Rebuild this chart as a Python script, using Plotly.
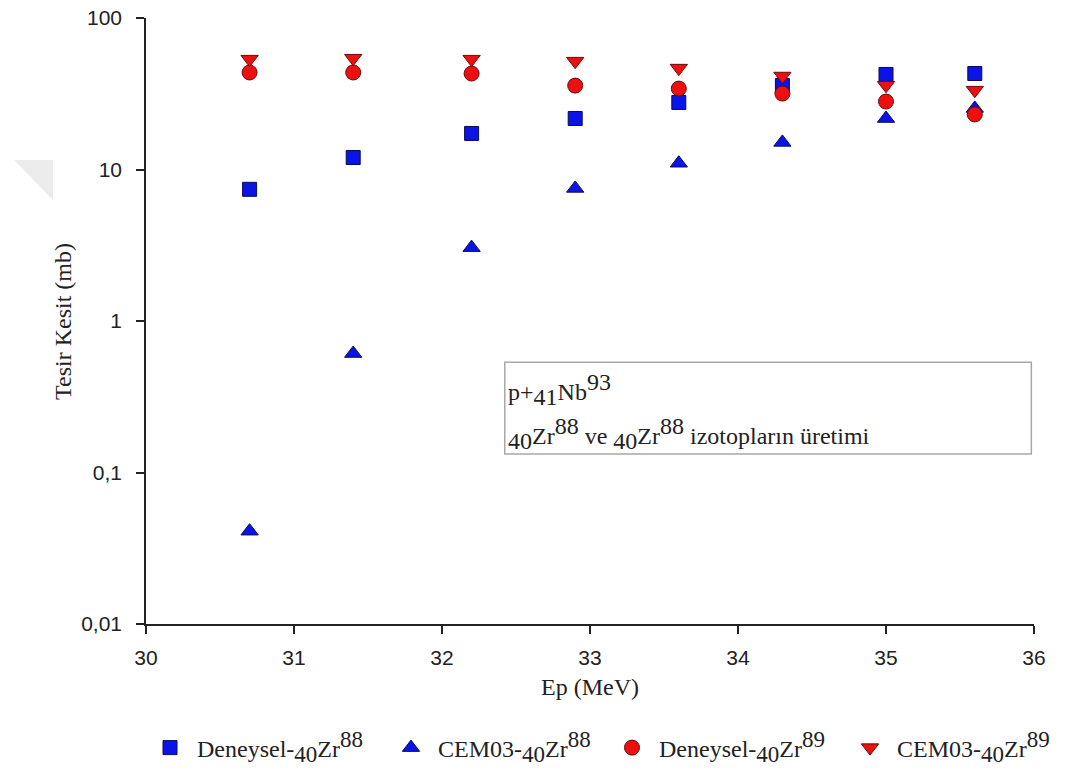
import plotly.graph_objects as go

# Data
energy = [30.7, 31.4, 32.2, 32.9, 33.6, 34.3, 35.0, 35.6]
deneysel_zr88 = [7.4, 12.0, 17.3, 21.7, 27.7, 35.8, 42.4, 43.0]
cem03_zr88 = [0.041, 0.61, 3.05, 7.5, 11.0, 15.1, 21.7, 25.3]
deneysel_zr89 = [43.7, 43.7, 43.0, 35.8, 34.2, 31.7, 28.1, 23.1]
cem03_zr89 = [53.5, 54.3, 53.5, 51.9, 46.7, 41.4, 36.0, 33.4]

y_tickvals = [0.01, 0.1, 1, 10, 100]
y_ticktext = ["0,01", "0,1", "1", "10", "100"]
x_tickvals = [30, 31, 32, 33, 34, 35, 36]

SERIF = "Liberation Serif"
SANS = "Liberation Sans"
LEG_FS = 24
ANN_FS = 24
TITLE_FS = 24


def sub(t, fs):
    return f"<sub><span style='font-size:{fs}px'>{t}</span></sub>"


def sup(t, fs):
    return f"<sup><span style='font-size:{fs}px'>{t}</span></sup>"


def iso(z, a, fs):
    return f"{sub(z, fs)}Zr{sup(a, fs)}"


names = [
    "Deneysel-" + iso("40", "88", LEG_FS - 1),
    "CEM03-" + iso("40", "88", LEG_FS - 1),
    "Deneysel-" + iso("40", "89", LEG_FS - 1),
    "CEM03-" + iso("40", "89", LEG_FS - 1),
]

BLUE = "#0a14e6"
BLUE_EDGE = "#0a0a55"
RED = "#ee1010"
RED_EDGE = "#6a0a0a"

series = [
    (deneysel_zr88, names[0], "square", 14, BLUE, BLUE_EDGE, "legend"),
    (cem03_zr88, names[1], "triangle-up", 15, BLUE, BLUE_EDGE, "legend2"),
    (deneysel_zr89, names[2], "circle", 15, RED, RED_EDGE, "legend3"),
    (cem03_zr89, names[3], "triangle-down", 15, RED, RED_EDGE, "legend4"),
]

fig = go.Figure()
for vals, nm, sym, sz, col, edge, leg in series:
    fig.add_trace(go.Scatter(x=energy, y=vals, mode="markers", name=nm, legend=leg,
                             marker=dict(symbol=sym, size=sz, color=col,
                                         line=dict(color=edge, width=1))))

leg_common = dict(orientation="h", xanchor="left", xref="container", yref="container",
                  y=0.0439, yanchor="middle",
                  font=dict(family=SERIF, size=LEG_FS, color="#222"),
                  bgcolor="rgba(0,0,0,0)", itemwidth=44)
# legend symbol centres (page px) 168, 409, 630, 868 -> container x of legend box
leg_x = [(168 - 8 - 25) / 1075, (409 - 8 - 25) / 1075, (630 - 8 - 25) / 1075, (868 - 8 - 25) / 1075]

fig.update_layout(
    width=1075, height=774,
    margin=dict(l=138, r=49, t=10, b=158),
    paper_bgcolor="white", plot_bgcolor="white",
    showlegend=True,
    legend=dict(x=leg_x[0], **leg_common),
    legend2=dict(x=leg_x[1], **leg_common),
    legend3=dict(x=leg_x[2], **leg_common),
    legend4=dict(x=leg_x[3], **leg_common),
    xaxis=dict(range=[30, 36], tickvals=x_tickvals, showgrid=False, zeroline=False,
               automargin=False,
               showline=True, linecolor="#222", linewidth=1.5,
               ticks="outside", ticklen=8, tickcolor="#222", tickwidth=1.5,
               tickfont=dict(family=SANS, size=21, color="#222"),
               ticklabelstandoff=6,
               title=dict(text="Ep (MeV)", font=dict(family=SERIF, size=TITLE_FS, color="#222"),
                          standoff=10)),
    yaxis=dict(type="log", range=[-2, 2], tickvals=y_tickvals, ticktext=y_ticktext,
               showgrid=False, zeroline=False,
               automargin=False, ticklabeloverflow="allow",
               showline=True, linecolor="#222", linewidth=1.5,
               ticks="outside", ticklen=8, tickcolor="#222", tickwidth=1.5,
               tickfont=dict(family=SANS, size=21, color="#222"),
               ticklabelstandoff=10),
)

# y-axis title
fig.add_annotation(xref="paper", yref="paper", x=-0.0935, y=0.5, xanchor="center", yanchor="middle",
                   textangle=-90, showarrow=False, text="Tesir Kesit (mb)",
                   font=dict(family=SERIF, size=TITLE_FS, color="#222"))

# Info box
fig.add_shape(type="rect", xref="paper", yref="paper",
              x0=0.404, x1=0.997, y0=0.2805, y1=0.432,
              line=dict(color="#a8a8a8", width=1.5), fillcolor="rgba(255,255,255,0)")
line1 = "p+" + sub("41", ANN_FS) + "Nb" + sup("93", ANN_FS)
line2 = (iso("40", "88", ANN_FS) + " ve " + iso("40", "88", ANN_FS)
         + " izotopların üretimi")
fig.add_annotation(xref="paper", yref="paper", x=0.4056, y=0.424, xanchor="left", yanchor="top",
                   align="left", showarrow=False, text=line1,
                   font=dict(family=SERIF, size=ANN_FS, color="#222"))
fig.add_annotation(xref="paper", yref="paper", x=0.4056, y=0.3516, xanchor="left", yanchor="top",
                   align="left", showarrow=False, text=line2,
                   font=dict(family=SERIF, size=ANN_FS, color="#222"))

# faint watermark fragment at left
fig.add_shape(type="path", xref="paper", yref="paper",
              path="M -0.1486,0.7657 L -0.1047,0.7657 L -0.1047,0.6997 Z",
              fillcolor="#ececec", line=dict(width=0))

fig.write_html("out.html")
